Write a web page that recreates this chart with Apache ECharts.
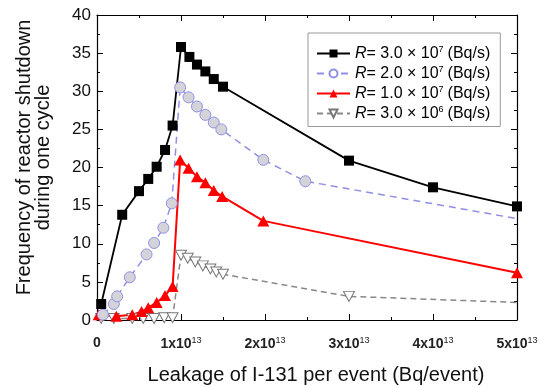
<!DOCTYPE html>
<html>
<head>
<meta charset="utf-8">
<script src="https://cdn.jsdelivr.net/npm/echarts@6/dist/echarts.min.js"></script>
<style>
  html, body { margin: 0; padding: 0; background: #fff; }
  #chart { width: 546px; height: 387px; }
</style>
</head>
<body>
<div id="chart"></div>
<script>
// leakage in units of 1e13 Bq/event
const xR30 = [0.05, 0.3, 0.5, 0.61, 0.71, 0.81, 0.9, 1.0, 1.1, 1.19, 1.29, 1.39, 1.5, 3.0, 4.0, 5.0];
const yR30 = [2.1, 13.8, 16.9, 18.5, 20.1, 22.3, 25.5, 35.8, 34.5, 33.5, 32.6, 31.6, 30.6, 20.9, 17.4, 14.9];

const xR20 = [0.07, 0.2, 0.24, 0.39, 0.59, 0.68, 0.79, 0.89, 0.99, 1.09, 1.19, 1.29, 1.39, 1.48, 1.98, 2.48, 5.0];
const yR20 = [0.7, 2.1, 3.1, 5.6, 8.6, 10.1, 12.1, 15.3, 30.5, 29.2, 28.0, 26.9, 25.9, 25.0, 21.0, 18.2, 13.3];

const xR10 = [0.02, 0.23, 0.42, 0.53, 0.61, 0.71, 0.81, 0.9, 0.99, 1.09, 1.19, 1.29, 1.39, 1.49, 1.98, 5.0];
const yR10 = [0.7, 0.5, 0.7, 1.1, 1.6, 2.3, 3.2, 4.4, 21.0, 19.9, 18.8, 18.0, 17.0, 16.2, 13.0, 6.2];

const xR3 = [0.05, 0.2, 0.42, 0.55, 0.68, 0.8, 0.9, 1.0, 1.08, 1.17, 1.26, 1.35, 1.42, 1.5, 3.0, 5.0];
const yR3 = [0.2, 0.2, 0.2, 0.2, 0.2, 0.3, 0.3, 8.5, 8.1, 7.6, 7.1, 6.7, 6.3, 6.0, 3.1, 2.3];

const seriesNames = ['R30', 'R20', 'R10', 'R3'];
const legendLabels = {
  R30: '{i|R}{t|= 3.0 × 10}{s|7}{t|(Bq/s)}',
  R20: '{i|R}{t|= 2.0 × 10}{s|7}{t|(Bq/s)}',
  R10: '{i|R}{t|= 1.0 × 10}{s|7}{t|(Bq/s)}',
  R3: '{i|R}{t|= 3.0 × 10}{s|6}{t|(Bq/s)}'
};

const zip = (xs, ys) => xs.map((x, i) => [x, ys[i]]);
// last point of a series drawn without marker (line ends at frame)
const noLastMark = pts => pts.map((p, i) => i === pts.length - 1 ? { value: p, symbol: 'none' } : p);
const downTri = 'path://M0,0 L10,0 L5,10 Z';

const chart = echarts.init(document.getElementById('chart'));

const frameLine = { show: true, onZero: false, lineStyle: { color: '#000', width: 1.2 } };
const tickStyle = { show: true, inside: true, length: 6, lineStyle: { color: '#000' } };
const minorStyle = { show: true, splitNumber: 2, length: 3, lineStyle: { color: '#000' } };

chart.setOption({
  animation: false,
  textStyle: { fontFamily: 'Liberation Sans, Arial, sans-serif' },
  grid: { left: 97, right: 29, top: 15, bottom: 67, outerBoundsMode: 'none', show: false },
  legend: {
    orient: 'vertical', left: 308, top: 33,
    data: seriesNames.map(n => n === 'R20' ? { name: n, itemStyle: { color: '#fff' } } : n),
    backgroundColor: '#fff', borderColor: '#999', borderWidth: 1,
    padding: [12, 10, 5, 8], itemGap: 3.5, itemWidth: 33, itemHeight: 10,
    formatter: n => legendLabels[n],
    textStyle: {
      color: '#000',
      rich: {
        i: { fontStyle: 'italic', fontSize: 16, color: '#000', lineHeight: 16 },
        t: { fontSize: 16, color: '#000', lineHeight: 16 },
        s: { fontSize: 9, color: '#000', verticalAlign: 'top', padding: [0, 4, 8, 0] }
      }
    }
  },
  xAxis: [{
    type: 'value', min: 0, max: 5, interval: 1,
    name: 'Leakage of I-131 per event (Bq/event)', nameLocation: 'middle', nameGap: 45,
    nameTextStyle: { fontSize: 20, color: '#111', padding: [0, 0, 0, 18] },
    axisLine: frameLine,
    axisTick: tickStyle, minorTick: minorStyle,
    splitLine: { show: false },
    axisLabel: {
      margin: 16,
      formatter: v => v === 0 ? '{a|0}' : '{a|' + v + 'x10}{s|13}',
      rich: {
        a: { fontSize: 14, fontWeight: 'bold', color: '#222' },
        s: { fontSize: 9, color: '#222', verticalAlign: 'top', padding: [0, 0, 8, 0] }
      }
    }
  }, {
    type: 'value', min: 0, max: 5, interval: 1, position: 'top',
    axisLine: frameLine, axisLabel: { show: false }, splitLine: { show: false },
    axisTick: tickStyle, minorTick: minorStyle
  }],
  yAxis: [{
    type: 'value', min: 0, max: 40, interval: 5,
    name: 'Frequency of reactor shutdown\nduring one cycle', nameLocation: 'middle', nameGap: 44,
    nameTextStyle: { fontSize: 20, color: '#111', lineHeight: 19, padding: [0, 0, 0, 20] },
    axisLine: frameLine,
    axisTick: tickStyle, minorTick: minorStyle,
    splitLine: { show: false },
    axisLabel: { fontSize: 17, color: '#111', margin: 6 }
  }, {
    type: 'value', min: 0, max: 40, interval: 5, position: 'right',
    axisLine: frameLine, axisLabel: { show: false }, splitLine: { show: false },
    axisTick: tickStyle, minorTick: minorStyle
  }],
  series: [
    {
      name: 'R3', type: 'line', data: noLastMark(zip(xR3, yR3)),
      symbol: downTri, symbolSize: [11, 10],
      lineStyle: { color: '#888', width: 1.5, type: [6, 4] },
      itemStyle: { color: '#fff', borderColor: '#777', borderWidth: 1 }
    },
    {
      name: 'R10', type: 'line', data: zip(xR10, yR10),
      symbol: 'triangle', symbolSize: [12, 11],
      lineStyle: { color: '#ff0000', width: 2 },
      itemStyle: { color: '#ff0000' }
    },
    {
      name: 'R20', type: 'line', data: noLastMark(zip(xR20, yR20)),
      symbol: 'circle', symbolSize: 11,
      lineStyle: { color: '#8f8fe6', width: 1.5, type: [7, 5] },
      itemStyle: { color: '#d4d4d8', borderColor: '#8f8fe6', borderWidth: 1 }
    },
    {
      name: 'R30', type: 'line', data: zip(xR30, yR30),
      symbol: 'rect', symbolSize: 10,
      lineStyle: { color: '#000', width: 1.8 },
      itemStyle: { color: '#000' }
    }
  ]
});
</script>
</body>
</html>
